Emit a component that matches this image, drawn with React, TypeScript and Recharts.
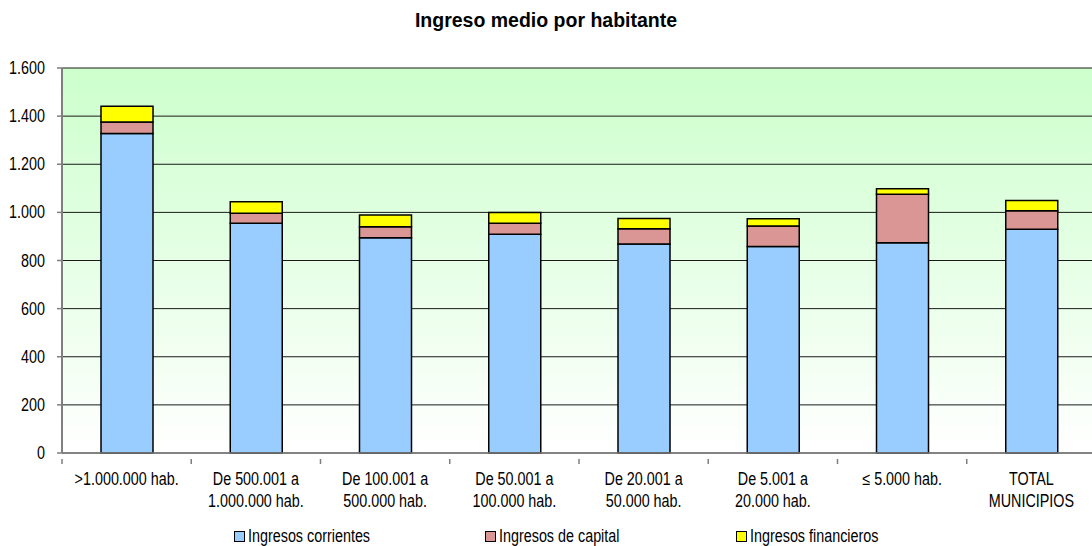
import React from "react";
import { BarChart, Bar, XAxis, YAxis, CartesianGrid, Legend } from "recharts";

const categories = [
  ">1.000.000 hab.",
  "De 500.001 a\n1.000.000 hab.",
  "De 100.001 a\n500.000 hab.",
  "De 50.001 a\n100.000 hab.",
  "De 20.001 a\n50.000 hab.",
  "De 5.001 a\n20.000 hab.",
  "≤ 5.000 hab.",
  "TOTAL\nMUNICIPIOS",
];
const corrientes = [1328, 955, 895, 909, 869, 858, 874, 930];
const capital = [48, 41, 45, 46, 63, 85, 201, 77];
const financieros = [65, 48, 49, 45, 43, 31, 23, 42];
const yTicks = [0, 200, 400, 600, 800, 1000, 1200, 1400, 1600];

const seriesNames = ["Ingresos corrientes", "Ingresos de capital", "Ingresos financieros"];
const seriesColors = ["#99CCFF", "#DA9694", "#FFFF00"];

const data = categories.map((name, i) => ({
  name,
  corrientes: corrientes[i],
  capital: capital[i],
  financieros: financieros[i],
}));

const FONT = "'Liberation Sans', Arial, sans-serif";
const FS = 17.5;
const SX = 0.82;
const CHART_W = 1100;
const CHART_H = 546;
const M_LEFT = 0;
const Y_W = 62;
const M_RIGHT = 4;
const PLOT_W = CHART_W - M_LEFT - Y_W - M_RIGHT;
const BAND = PLOT_W / categories.length;

const fmt = (v: number) => v.toString().replace(/\B(?=(\d{3})+(?!\d))/g, ".");

const XTick = (props: any) => {
  const { x, y, payload, index } = props;
  const lines = String(payload.value).split("\n");
  const axisY = y - 2;
  return (
    <g>
      <line x1={x - BAND / 2} x2={x - BAND / 2} y1={axisY} y2={axisY + 5} stroke="#7f7f7f" strokeWidth={1.5} />
      {index === categories.length - 1 && (
        <line x1={x + BAND / 2} x2={x + BAND / 2} y1={axisY} y2={axisY + 5} stroke="#7f7f7f" strokeWidth={1.5} />
      )}
      <g transform={`translate(${x},${axisY + 26}) scale(${SX},1)`}>
        <text x={0} y={0} textAnchor="middle" fontFamily={FONT} fontSize={FS} fill="#000">
          {lines.map((l, i) => (
            <tspan key={i} x={0} dy={i === 0 ? 0 : 22}>
              {l}
            </tspan>
          ))}
        </text>
      </g>
    </g>
  );
};

const YTick = (props: any) => {
  const { x, y, payload } = props;
  return (
    <g transform={`translate(${x},${y}) scale(${SX},1)`}>
      <text x={0} y={0} dy={6} textAnchor="end" fontFamily={FONT} fontSize={FS} fill="#000">
        {fmt(payload.value)}
      </text>
    </g>
  );
};

const LegendContent = () => (
  <div style={{ display: "flex", fontFamily: FONT, fontSize: FS, color: "#000", lineHeight: "20px" }}>
    {seriesNames.map((n, i) => (
      <div key={n} style={{ width: 251, display: "flex", alignItems: "center" }}>
        <span
          style={{
            display: "inline-block",
            width: 9,
            height: 9,
            border: "1px solid #000",
            background: seriesColors[i],
            marginRight: 3,
          }}
        />
        <span style={{ display: "inline-block", transform: `scaleX(${SX})`, transformOrigin: "left center", whiteSpace: "nowrap" }}>
          {n}
        </span>
      </div>
    ))}
  </div>
);

export default function App() {
  return (
    <div
      style={{
        position: "absolute",
        left: 0,
        top: 0,
        width: 1092,
        height: 546,
        overflow: "hidden",
        background: "#fff",
      }}
    >
      <div
        style={{
          position: "absolute",
          top: 8,
          left: 0,
          width: 1092,
          textAlign: "center",
          fontFamily: FONT,
          fontWeight: "bold",
          fontSize: 19.5,
          lineHeight: "24px",
          color: "#000",
        }}
      >
        Ingreso medio por habitante
      </div>
      <BarChart
        width={CHART_W}
        height={CHART_H}
        data={data}
        margin={{ top: 68, right: M_RIGHT, left: M_LEFT, bottom: 11 }}
      >
        <defs>
          <linearGradient id="bg" x1="0" y1="0" x2="0" y2="1">
            <stop offset="0%" stopColor="#CCFFCC" />
            <stop offset="100%" stopColor="#FFFFFF" />
          </linearGradient>
        </defs>
        <CartesianGrid vertical={false} stroke="#1a1a1a" strokeWidth={1} fill="url(#bg)" fillOpacity={1} />
        <XAxis
          dataKey="name"
          interval={0}
          height={60}
          tickLine={false}
          axisLine={{ stroke: "#7f7f7f", strokeWidth: 1.5 }}
          tick={<XTick />}
        />
        <YAxis
          width={Y_W}
          domain={[0, 1600]}
          ticks={yTicks}
          tickSize={5}
          tickMargin={12}
          tickLine={{ stroke: "#7f7f7f", strokeWidth: 1.5 }}
          axisLine={{ stroke: "#7f7f7f", strokeWidth: 2 }}
          tick={<YTick />}
          interval={0}
        />
        <Legend
          verticalAlign="bottom"
          height={22}
          content={<LegendContent />}
          wrapperStyle={{ position: "absolute", left: 234, top: 526, width: 800 }}
        />
        <Bar dataKey="corrientes" name={seriesNames[0]} stackId="a" fill={seriesColors[0]} stroke="#000" strokeWidth={1.5} barSize={52} isAnimationActive={false} />
        <Bar dataKey="capital" name={seriesNames[1]} stackId="a" fill={seriesColors[1]} stroke="#000" strokeWidth={1.5} barSize={52} isAnimationActive={false} />
        <Bar dataKey="financieros" name={seriesNames[2]} stackId="a" fill={seriesColors[2]} stroke="#000" strokeWidth={1.5} barSize={52} isAnimationActive={false} />
      </BarChart>
    </div>
  );
}
